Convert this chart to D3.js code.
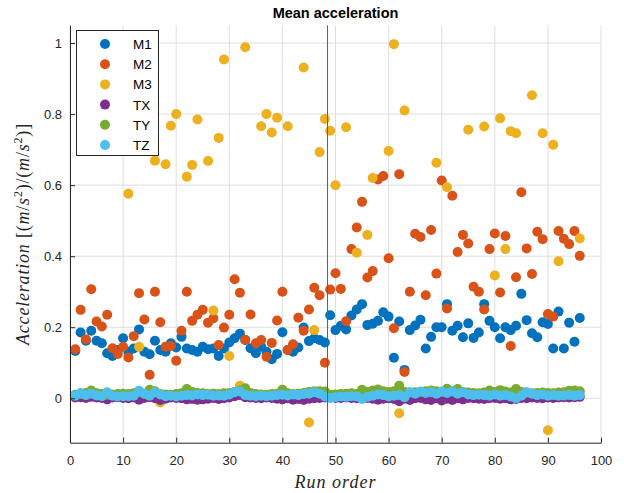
<!DOCTYPE html>
<html>
<head>
<meta charset="utf-8">
<script src="https://cdn.jsdelivr.net/npm/d3@7"></script>
<style>
  body { margin: 0; background: #fff; }
  svg { display: block; }
</style>
</head>
<body>
<div id="chart"></div>
<script>
// run numbers 1..96
var runs = d3.range(1, 97);
var series = ["M1", "M2", "M3", "TX", "TY", "TZ"];
var color = ["#0072BD", "#D95319", "#EDB120", "#7E2F8E", "#77AC30", "#4DBEEE"];

var data_M1 = [
  0.133,0.185,0.162,0.190,0.162,0.155,0.127,0.119,0.136,0.169,
  0.131,0.140,0.194,0.131,0.124,0.162,0.136,0.131,0.155,0.143,
  0.173,0.140,0.136,0.131,0.145,0.138,0.140,0.119,0.140,0.157,
  0.169,0.182,0.164,0.141,0.127,0.145,0.131,0.110,0.125,0.186,
  0.136,0.131,0.143,0.199,0.161,0.169,0.164,0.157,0.234,0.192,
  0.204,0.194,0.233,0.250,0.265,0.206,0.210,0.218,0.242,0.230,
  0.114,0.216,0.080,0.192,0.205,0.221,0.140,0.173,0.200,0.200,
  0.265,0.190,0.204,0.172,0.211,0.170,0.185,0.265,0.218,0.200,
  0.169,0.200,0.192,0.204,0.294,0.220,0.183,0.172,0.214,0.209,
  0.140,0.244,0.140,0.213,0.159,0.226];
var data_M2 = [
  0.138,0.249,0.166,0.307,0.216,0.202,0.235,0.141,0.125,0.145,
  0.115,0.175,0.296,0.222,0.066,0.300,0.214,0.145,0.147,0.106,
  0.190,0.300,0.218,0.235,0.249,0.213,0.225,0.150,0.199,0.235,
  0.335,0.297,0.165,0.236,0.155,0.164,0.117,0.156,0.219,0.300,
  0.136,0.152,0.227,0.190,0.250,0.311,0.290,0.100,0.306,0.352,
  0.308,0.217,0.420,0.481,0.553,0.340,0.358,0.616,0.626,0.394,
  0.197,0.631,0.074,0.300,0.463,0.454,0.290,0.474,0.351,0.613,
  0.253,0.570,0.412,0.460,0.436,0.314,0.300,0.250,0.420,0.464,
  0.298,0.457,0.147,0.341,0.580,0.422,0.350,0.469,0.448,0.237,
  0.230,0.471,0.449,0.434,0.471,0.401];
var data_M3 = [
  0.008,0.009,0.93,0.75,0.82,0.97,0.78,0.88,0.74,0.91,
  0.576,0.84,0.145,0.81,0.77,0.669,-0.012,0.659,0.767,0.800,
  0.008,0.624,0.657,0.785,0.009,0.668,0.247,0.733,0.954,0.119,
  0.010,0.035,0.988,0.008,0.007,0.766,0.800,0.748,0.790,0.009,
  0.766,0.009,0.008,0.931,-0.068,0.192,0.693,0.786,0.753,0.600,
  0.006,0.763,0.006,0.410,0.004,0.460,0.620,0.009,0.008,0.696,
  0.997,-0.042,0.810,0.010,0.009,0.012,0.009,0.010,0.663,0.010,
  0.594,0.012,0.009,0.010,0.756,0.009,0.009,0.765,0.008,0.346,
  0.788,0.420,0.752,0.746,0.008,0.010,0.853,0.009,0.746,-0.090,
  0.714,0.386,0.008,0.009,0.008,0.450];
var data_TX = [
  0.002,0.003,0.001,0.004,0.002,0.001,-0.003,0.002,0.003,0.001,
  0.000,0.002,-0.004,0.001,0.003,0.000,-0.005,-0.001,0.002,0.001,
  0.000,-0.003,-0.002,-0.004,-0.003,-0.001,0.001,-0.002,0.000,0.002,
  0.006,0.009,0.003,0.002,0.001,0.000,0.002,0.001,-0.001,-0.003,
  0.000,-0.004,-0.002,-0.005,-0.001,0.000,0.001,0.002,0.002,0.001,
  0.001,0.002,0.001,0.000,0.001,0.001,-0.001,-0.004,-0.001,0.000,
  -0.002,-0.008,-0.001,-0.005,0.000,0.001,-0.003,-0.005,0.000,-0.006,
  -0.001,-0.005,0.000,-0.003,0.001,0.000,-0.001,-0.002,0.000,0.001,
  -0.001,0.000,-0.003,-0.002,0.001,0.000,0.002,0.001,0.000,0.002,
  0.001,0.002,0.003,0.002,0.003,0.004];
var data_TY = [
  0.010,0.012,0.015,0.022,0.014,0.012,0.010,0.011,0.012,0.013,
  0.012,0.014,0.018,0.013,0.024,0.020,0.012,0.011,0.010,0.012,
  0.014,0.026,0.018,0.015,0.014,0.012,0.013,0.012,0.014,0.015,
  0.018,0.022,0.028,0.015,0.012,0.011,0.010,0.012,0.013,0.024,
  0.014,0.012,0.013,0.015,0.018,0.020,0.020,0.019,0.010,0.011,
  0.012,0.013,0.014,0.012,0.024,0.018,0.022,0.025,0.020,0.018,
  0.020,0.035,0.018,0.016,0.017,0.018,0.020,0.022,0.020,0.018,
  0.027,0.020,0.026,0.018,0.016,0.015,0.014,0.016,0.022,0.018,
  0.023,0.019,0.016,0.026,0.018,0.016,0.014,0.015,0.016,0.015,
  0.014,0.016,0.017,0.021,0.022,0.020];
var data_TZ = [
  0.007,0.015,0.009,0.013,0.008,0.006,0.017,0.007,0.005,0.006,
  0.006,0.007,0.021,0.013,0.007,0.017,0.011,0.006,0.007,0.005,
  0.007,0.009,0.008,0.011,0.009,0.010,0.007,0.008,0.007,0.011,
  0.017,0.019,0.009,0.007,0.006,0.007,0.006,0.007,0.009,0.010,
  0.008,0.011,0.009,0.012,0.013,0.017,0.013,0.005,0.001,0.003,
  0.005,0.004,0.006,0.005,-0.002,0.004,0.007,0.011,0.009,0.005,
  0.007,0.009,0.003,0.017,0.013,0.019,0.015,0.017,0.013,0.019,
  0.015,0.019,0.013,0.017,0.011,0.009,0.010,0.009,0.007,0.011,
  0.007,0.009,0.005,0.000,0.007,0.017,0.013,0.009,0.011,0.007,
  0.009,0.007,0.008,0.009,0.007,0.009];

var all_data = [data_M1, data_M2, data_M3, data_TX, data_TY, data_TZ];

var xTicks = [0, 10, 20, 30, 40, 50, 60, 70, 80, 90, 100];
var yTicks = [0, 0.2, 0.4, 0.6, 0.8, 1];
var yTickLabels = ["0", "0.2", "0.4", "0.6", "0.8", "1"];
var splitRun = 48.5;

var W = 624, H = 493;
var plotL = 70, plotR = 601, plotT = 25.3, plotB = 442.7;

var svg = d3.select("#chart").append("svg")
  .attr("width", W)
  .attr("height", H);

var x = d3.scaleLinear().domain([0, 100]).range([plotL, plotR]);
var y = d3.scaleLinear().domain([-0.125, 1.05]).range([plotB, plotT]);

// grid
svg.append("g")
  .selectAll("line")
  .data(xTicks)
  .join("line")
  .attr("x1", d => x(d)).attr("x2", d => x(d))
  .attr("y1", plotT).attr("y2", plotB)
  .style("stroke", "#dedede")
  .style("stroke-width", 1);
svg.append("g")
  .selectAll("line")
  .data(yTicks)
  .join("line")
  .attr("x1", plotL).attr("x2", plotR)
  .attr("y1", d => y(d)).attr("y2", d => y(d))
  .style("stroke", "#dedede")
  .style("stroke-width", 1);

// points
for (var s = 0; s < series.length; s++) {
  svg.append("g")
    .selectAll("circle")
    .data(all_data[s])
    .join("circle")
    .attr("cx", (d, i) => x(runs[i]))
    .attr("cy", d => y(d))
    .attr("r", 5)
    .style("fill", color[s]);
}

// split line
svg.append("line")
  .attr("x1", x(splitRun)).attr("x2", x(splitRun))
  .attr("y1", plotT).attr("y2", plotB)
  .style("stroke", "#5e5e5e")
  .style("stroke-width", 1);

// axes
var xAxis = svg.append("g")
  .attr("transform", "translate(0," + plotB + ")")
  .call(d3.axisBottom(x).tickValues(xTicks).tickSize(-5).tickPadding(13).tickSizeOuter(0));
var yAxis = svg.append("g")
  .attr("transform", "translate(" + plotL + ",0)")
  .call(d3.axisLeft(y).tickValues(yTicks).tickFormat((d, i) => yTickLabels[i]).tickSize(-5).tickPadding(8).tickSizeOuter(0));

[xAxis, yAxis].forEach(function (g) {
  g.select(".domain").style("stroke", "#262626");
  g.selectAll(".tick line").style("stroke", "#262626");
  g.selectAll(".tick text")
    .style("font-size", "13px")
    .attr("font-family", "Liberation Sans, Arial, sans-serif")
    .attr("fill", "#262626");
});

// title
svg.append("text")
  .attr("x", (plotL + plotR) / 2)
  .attr("y", 18)
  .attr("text-anchor", "middle")
  .text("Mean acceleration")
  .style("font-size", "14.5px")
  .attr("font-weight", "bold")
  .attr("font-family", "Liberation Sans, Arial, sans-serif")
  .attr("fill", "#000");

// x label
svg.append("text")
  .attr("x", (plotL + plotR) / 2)
  .attr("y", 488)
  .attr("text-anchor", "middle")
  .text("Run order")
  .style("font-size", "18px")
  .style("font-style", "italic")
  .style("letter-spacing", "1px")
  .attr("font-family", "Liberation Serif, serif")
  .attr("fill", "#262626");

// y label
var yl = svg.append("text")
  .attr("transform", "translate(29," + ((plotT + plotB) / 2) + ") rotate(-90)")
  .attr("text-anchor", "middle")
  .style("font-size", "18px")
  .style("letter-spacing", "0.8px")
  .attr("font-family", "Liberation Serif, serif")
  .attr("fill", "#262626");
yl.append("tspan").style("font-style", "italic").text("Acceleration ");
yl.append("tspan").text("[(");
yl.append("tspan").style("font-style", "italic").text("m");
yl.append("tspan").text("/");
yl.append("tspan").style("font-style", "italic").text("s");
yl.append("tspan").attr("dy", -7).style("font-size", "12px").text("2");
yl.append("tspan").attr("dy", 7).text(")/(");
yl.append("tspan").style("font-style", "italic").text("m");
yl.append("tspan").text("/");
yl.append("tspan").style("font-style", "italic").text("s");
yl.append("tspan").attr("dy", -7).style("font-size", "12px").text("2");
yl.append("tspan").attr("dy", 7).text(")]");

// legend
var lg = svg.append("g");
lg.append("rect")
  .attr("x", 76.5).attr("y", 30.5)
  .attr("width", 82).attr("height", 125)
  .attr("fill", "#fff")
  .style("stroke", "#262626")
  .style("stroke-width", 1);
for (var i = 0; i < series.length; i++) {
  lg.append("circle")
    .attr("cx", 105)
    .attr("cy", 44 + i * 20.2)
    .attr("r", 5)
    .style("fill", color[i]);
  lg.append("text")
    .attr("x", 133)
    .attr("y", 44 + i * 20.2 + 5)
    .text(series[i])
    .style("font-size", "13.5px")
    .attr("font-family", "Liberation Sans, Arial, sans-serif")
    .attr("fill", "#000");
}
</script>
</body>
</html>
